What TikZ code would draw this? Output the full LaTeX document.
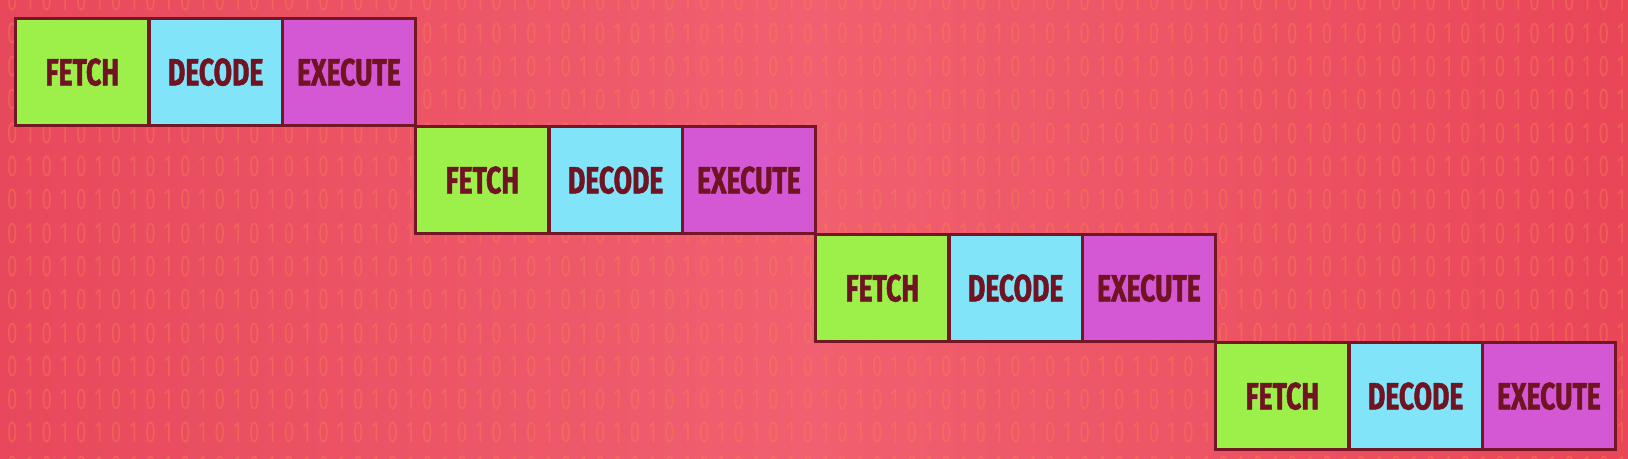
\documentclass[tikz,border=0pt]{standalone}
\usepackage{fontspec}
\newfontfamily\boxfont{Fira Sans Bold}[FakeStretch=0.70,FakeBold=1.3]
\newfontfamily\bitfont{Fira Sans}[FakeStretch=0.62]
\definecolor{bgL}{RGB}{232,72,92}
\definecolor{bgM}{RGB}{241,96,112}
\definecolor{bgR}{RGB}{233,70,88}
\definecolor{bitc}{RGB}{248,128,80}
\definecolor{fetchc}{RGB}{157,240,74}
\definecolor{decodec}{RGB}{130,228,248}
\definecolor{execc}{RGB}{212,88,212}
\definecolor{edgec}{RGB}{115,22,38}
\definecolor{txtc}{RGB}{112,20,36}
\def\bp{\makebox[17.3pt]{0}\makebox[17.3pt]{1}}
\def\bpx{\bp\bp\bp\bp\bp}
\def\bprow{\bpx\bpx\bpx\bpx\bpx\bpx\bpx\bpx\bpx\bpx}
\tikzset{
  stage/.style={draw=edgec, line width=3.4pt, minimum width=133.3pt, minimum height=107pt,
    anchor=north west, inner sep=0pt, text=txtc, font=\boxfont\fontsize{38}{38}\selectfont},
  fetchbox/.style={stage, fill=fetchc},
  decodebox/.style={stage, fill=decodec},
  execbox/.style={stage, fill=execc},
  bitrow/.style={anchor=west, inner sep=0pt, text=bitc, text opacity=0.42,
    font=\bitfont\fontsize{30}{30}\selectfont}
}
\begin{document}
\begin{tikzpicture}[x=1pt,y=-1pt]
\useasboundingbox (0,0) rectangle (1628,458);
\fill[left color=bgL, right color=bgR, middle color=bgM] (0,0) rectangle (1628,458);
\begin{scope}
\clip (0,0) rectangle (1628,458);
\foreach \k in {0,...,14}{
  \node[bitrow] (bits\k) at (3.35,{33.3*\k}) {\bprow};
}
\end{scope}
\foreach \r in {0,1,2,3}{
  \node[fetchbox]  (f\r) at ({14+400*\r},{17+108*\r}) {FETCH};
  \node[decodebox] (d\r) at ({14+400*\r+133.3},{17+108*\r}) {DECODE};
  \node[execbox]   (e\r) at ({14+400*\r+266.6},{17+108*\r}) {EXECUTE};
}
\end{tikzpicture}
\end{document}
